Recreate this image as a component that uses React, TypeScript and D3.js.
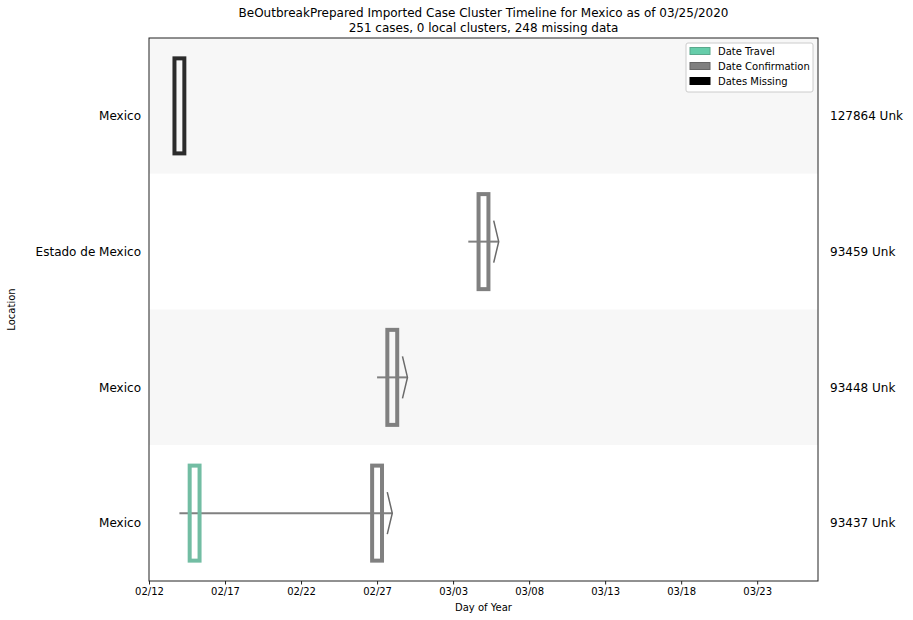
import React, { useEffect, useRef } from "react";
import * as d3 from "d3";

const titleLines = [
  "BeOutbreakPrepared Imported Case Cluster Timeline for Mexico as of 03/25/2020",
  "251 cases, 0 local clusters, 248 missing data",
];
const locations = ["Mexico", "Estado de Mexico", "Mexico", "Mexico"];
const caseIds = ["127864 Unk", "93459 Unk", "93448 Unk", "93437 Unk"];
const travelDates: (string | null)[] = [null, null, null, "2020-02-15"];
const confirmDates: (string | null)[] = [null, "2020-03-05", "2020-02-28", "2020-02-27"];
const missingDates: (string | null)[] = ["2020-02-14", null, null, null];
const tickDates = ["2020-02-12", "2020-02-17", "2020-02-22", "2020-02-27", "2020-03-03", "2020-03-08", "2020-03-13", "2020-03-18", "2020-03-23"];
const domainDates = ["2020-02-12", "2020-03-27"];
const legendLabels = ["Date Travel", "Date Confirmation", "Dates Missing"];

const W = 913, H = 620;
const M = { left: 149, right: 818, top: 38, bottom: 581 };
const FONT = "DejaVu Sans, sans-serif";
const GREEN = "#72bda3";
const GRAY = "#808080";
const DARK = "#2b2b2b";

export default function App() {
  const ref = useRef<SVGSVGElement>(null);
  useEffect(() => {
    document.body.style.margin = "0";
    const parse = d3.utcParse("%Y-%m-%d");
    const day = 86400000;
    const svg = d3.select(ref.current);
    svg.selectAll("*").remove();
    const x = d3.scaleUtc().domain(domainDates.map((d) => parse(d)!)).range([M.left, M.right]);
    const y = d3.scaleBand().domain(d3.range(locations.length).map(String)).range([M.top, M.bottom]).padding(0);
    const bw = y.bandwidth();

    svg.append("rect").attr("width", W).attr("height", H).attr("fill", "white");

    // bands
    svg.selectAll("rect.band").data(locations).enter().append("rect")
      .attr("x", M.left).attr("width", M.right - M.left)
      .attr("y", (_, i) => y(String(i))!).attr("height", bw)
      .attr("fill", (_, i) => (i % 2 === 0 ? "#f7f7f7" : "white"));

    const rectW = (x(new Date(parse(domainDates[0])!.getTime() + day)) - M.left) * 0.65;
    const rectH = bw * 0.7;
    const g = svg.append("g");

    locations.forEach((_, i) => {
      const cy = y(String(i))! + bw / 2;
      const t = travelDates[i] ? parse(travelDates[i]!)! : null;
      const c = confirmDates[i] ? parse(confirmDates[i]!)! : null;
      const m = missingDates[i] ? parse(missingDates[i]!)! : null;
      if (c) {
        const start = t || c;
        const x0 = x(new Date(start.getTime() - day));
        const x1 = x(new Date(c.getTime() + day));
        g.append("line").attr("x1", x0).attr("x2", x1).attr("y1", cy).attr("y2", cy)
          .attr("stroke", GRAY).attr("stroke-width", 2);
        g.append("polyline")
          .attr("points", `${x1 - 5},${cy - 21} ${x1},${cy} ${x1 - 5},${cy + 21}`)
          .attr("fill", "none").attr("stroke", "#6a6a6a").attr("stroke-width", 1.5);
      }
      const drawRect = (d: Date, color: string) => {
        g.append("rect").attr("x", x(d) - rectW / 2).attr("y", cy - rectH / 2)
          .attr("width", rectW).attr("height", rectH)
          .attr("fill", "none").attr("stroke", color).attr("stroke-width", 4);
      };
      if (t) drawRect(t, GREEN);
      if (c) drawRect(c, GRAY);
      if (m) drawRect(m, DARK);

      const ly = cy + 10;
      svg.append("text").attr("x", M.left - 8).attr("y", ly).attr("dy", "0.35em")
        .attr("text-anchor", "end").attr("font-family", FONT).attr("font-size", 12)
        .text(locations[i]);
      svg.append("text").attr("x", M.right + 12).attr("y", ly).attr("dy", "0.35em")
        .attr("text-anchor", "start").attr("font-family", FONT).attr("font-size", 12)
        .text(caseIds[i]);
    });

    // frame
    svg.append("rect").attr("x", M.left).attr("y", M.top)
      .attr("width", M.right - M.left).attr("height", M.bottom - M.top)
      .attr("fill", "none").attr("stroke", "#222").attr("stroke-width", 1);

    // x axis
    const ax = svg.append("g").attr("transform", `translate(0,${M.bottom})`)
      .call(d3.axisBottom(x).tickValues(tickDates.map((d) => parse(d)!))
        .tickFormat((d) => d3.utcFormat("%m/%d")(d as Date)).tickSize(3.5).tickPadding(3.5));
    ax.select(".domain").remove();
    ax.selectAll("text").attr("font-family", FONT).attr("font-size", 10).attr("fill", "#000");
    ax.selectAll("line").attr("stroke", "#222");

    svg.append("text").attr("x", (M.left + M.right) / 2).attr("y", 611)
      .attr("text-anchor", "middle").attr("font-family", FONT).attr("font-size", 10).text("Day of Year");
    svg.append("text").attr("transform", `translate(15,${(M.top + M.bottom) / 2}) rotate(-90)`)
      .attr("text-anchor", "middle").attr("font-family", FONT).attr("font-size", 10).text("Location");

    titleLines.forEach((t, i) => {
      svg.append("text").attr("x", (M.left + M.right) / 2).attr("y", 17 + i * 15)
        .attr("text-anchor", "middle").attr("font-family", FONT).attr("font-size", 12).text(t);
    });

    // legend
    const lg = svg.append("g");
    lg.append("rect").attr("x", 686).attr("y", 43).attr("width", 127).attr("height", 49)
      .attr("rx", 2).attr("fill", "white").attr("stroke", "#ccc");
    const fills = ["#66cdaa", GRAY, "#000"];
    const edges = ["#5aa88c", "#666", "#000"];
    legendLabels.forEach((l, i) => {
      const yy = 51 + i * 15;
      lg.append("rect").attr("x", 690).attr("y", yy - 3.5).attr("width", 20).attr("height", 7)
        .attr("fill", fills[i]).attr("stroke", edges[i]).attr("stroke-width", 1);
      lg.append("text").attr("x", 718).attr("y", yy).attr("dy", "0.35em")
        .attr("font-family", FONT).attr("font-size", 10).text(l);
    });
  }, []);
  return <svg ref={ref} width={W} height={H} style={{ display: "block" }} />;
}
